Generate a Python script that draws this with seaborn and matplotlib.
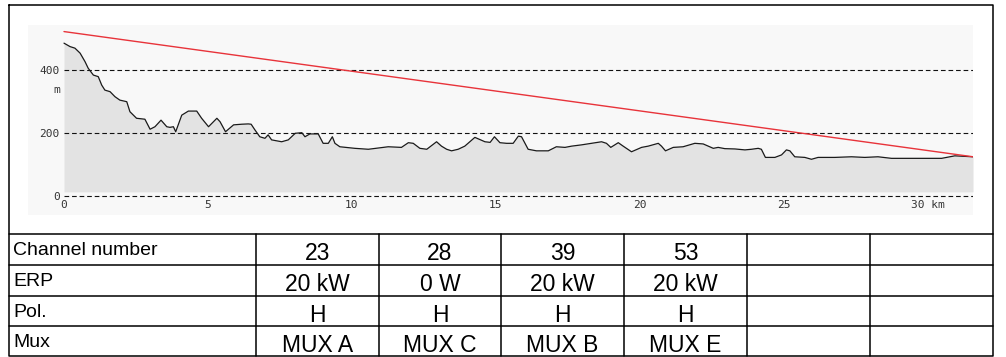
import matplotlib
matplotlib.use("Agg")
import matplotlib.pyplot as plt
import seaborn as sns
import pandas as pd

# ---------------- data ----------------
distance_km = [0, 0.21, 0.38, 0.56, 0.73, 0.84, 1.02, 1.19, 1.31, 1.42, 1.6, 1.77, 1.94,
               2.18, 2.29, 2.52, 2.81, 2.99, 3.16, 3.37, 3.57, 3.68, 3.8, 3.88, 4.09, 4.32,
               4.61, 4.78, 5.02, 5.31, 5.42, 5.61, 5.89, 6.17, 6.4, 6.5, 6.63, 6.8, 6.98,
               7.09, 7.21, 7.56, 7.79, 8.03, 8.26, 8.37, 8.54, 8.83, 9.0, 9.18, 9.32, 9.41,
               9.58, 10.1, 10.57, 11.26, 11.72, 11.96, 12.13, 12.36, 12.6, 12.94, 13.11,
               13.29, 13.46, 13.69, 13.92, 14.27, 14.62, 14.8, 14.95, 15.14, 15.37, 15.6,
               15.78, 15.89, 16.12, 16.41, 16.82, 17.1, 17.4, 17.63, 17.97, 18.32, 18.67,
               18.84, 18.99, 19.25, 19.42, 19.71, 20.06, 20.29, 20.64, 20.75, 20.89, 21.16,
               21.5, 21.91, 22.2, 22.55, 22.72, 22.95, 23.3, 23.65, 23.88, 24.11, 24.22,
               24.36, 24.69, 24.92, 25.09, 25.21, 25.38, 25.73, 25.96, 26.19, 26.77, 27.35,
               27.81, 28.27, 28.74, 29.43, 29.9, 30.48, 30.94, 31.57]
elevation_m = [487, 476, 471, 455, 428, 407, 385, 380, 353, 337, 332, 316, 305,
               300, 268, 247, 244, 212, 220, 241, 220, 218, 220, 204, 257, 270,
               270, 247, 220, 247, 236, 204, 226, 228, 229, 228, 210, 188, 183,
               194, 178, 172, 178, 199, 201, 188, 197, 197, 167, 167, 188, 167,
               156, 151, 148, 156, 154, 169, 167, 151, 148, 172, 158,
               148, 143, 148, 158, 186, 172, 170, 188, 169, 167, 167,
               190, 188, 148, 143, 143, 156, 154, 158, 162, 167, 172,
               167, 154, 169, 158, 140, 154, 158, 167, 158, 143, 154,
               156, 167, 165, 151, 154, 150, 149, 146, 148, 151, 148,
               122, 122, 130, 146, 143, 124, 122, 116, 122, 122, 124,
               122, 124, 119, 119, 119, 119, 127, 124]
los_km = [0, 31.57]
los_m = [524, 124]
grid_levels = [0, 200, 400]
x_ticks = [0, 5, 10, 15, 20, 25, 30]
x_tick_labels = ["0", "5", "10", "15", "20", "25", "30 km"]
y_tick_labels = ["0", "200", "400"]

row_labels = ["Channel number", "ERP", "Pol.", "Mux"]
channels = ["23", "28", "39", "53", "", ""]
erp = ["20 kW", "0 W", "20 kW", "20 kW", "", ""]
pol = ["H", "H", "H", "H", "", ""]
mux = ["MUX A", "MUX C", "MUX B", "MUX E", "", ""]

# ---------------- style ----------------
sns.set_style("white")
plt.rcParams["font.family"] = ["Liberation Sans", "DejaVu Sans"]

W, H = 1006, 357
fig = plt.figure(figsize=(W / 100, H / 100), dpi=100)
fig.patch.set_facecolor("white")

# overlay in pixel coordinates for frame + table
ax0 = fig.add_axes([0, 0, 1, 1])
ax0.set_xlim(0, W)
ax0.set_ylim(H, 0)
ax0.axis("off")

lw_frame = 1.1
ax0.plot([9, 993, 993, 9, 9], [5, 5, 355.8, 355.8, 5], color="black", lw=lw_frame)
row_edges = [234, 264.5, 295.8, 325.8, 355.8]
col_edges = [9, 256, 379, 501, 624, 747, 870, 993]
for y in row_edges[:-1]:
    ax0.plot([9, 993], [y, y], color="black", lw=lw_frame)
for x in col_edges[1:-1]:
    ax0.plot([x, x], [row_edges[0], row_edges[-1]], color="black", lw=lw_frame)

table_rows = [channels, erp, pol, mux]
for r, (lab, vals) in enumerate(zip(row_labels, table_rows)):
    yc = (row_edges[r] + row_edges[r + 1]) / 2
    ax0.text(13, yc + 6, lab, ha="left", va="baseline", fontsize=14, color="black")
    for c, v in enumerate(vals):
        xc = (col_edges[c + 1] + col_edges[c + 2]) / 2
        ax0.text(xc, yc + 11, v, ha="center", va="baseline", fontsize=16.5, color="black")

# ---------------- profile chart ----------------
ax = fig.add_axes([28 / W, 1 - 215 / H, (973 - 28) / W, (215 - 25) / H])
ax.set_facecolor("#f8f8f8")
x_end = distance_km[-1]
ax.set_xlim(-1.25, x_end)
ax.set_ylim(-62, 545)

df = pd.DataFrame({"km": distance_km, "m": elevation_m})
ax.fill_between(df["km"], 12, df["m"], color="#e3e3e3", lw=0, zorder=1)
ax.hlines(grid_levels, 0, x_end, colors="#111111", linestyles=(0, (4.2, 2.6)), lw=0.8, zorder=2)
sns.lineplot(data=df, x="km", y="m", ax=ax, color="#1a1a1a", lw=0.9, zorder=3)
sns.lineplot(x=los_km, y=los_m, ax=ax, color="#e8333a", lw=1.0, zorder=4)

for s in ax.spines.values():
    s.set_visible(False)
ax.spines["bottom"].set_position(("data", 0))
ax.spines["left"].set_position(("data", 0))
ax.set_xticks(x_ticks)
ax.set_xticklabels(x_tick_labels)
ax.set_yticks(grid_levels)
ax.set_yticklabels(y_tick_labels)
for t in ax.get_xticklabels() + ax.get_yticklabels():
    t.set_fontfamily("DejaVu Sans Mono")
    t.set_fontsize(8)
    t.set_color("#333333")
ax.tick_params(axis="x", direction="inout", length=6, width=0.8, color="#333333", pad=0.5)
ax.tick_params(axis="y", length=0, pad=3)
ax.text(-0.14, 337, "m", ha="right", va="center", fontfamily="DejaVu Sans Mono",
        fontsize=8, color="#333333")
ax.set_xlabel("")
ax.set_ylabel("")
ax.grid(False)

fig.savefig("out.png", dpi=100)
